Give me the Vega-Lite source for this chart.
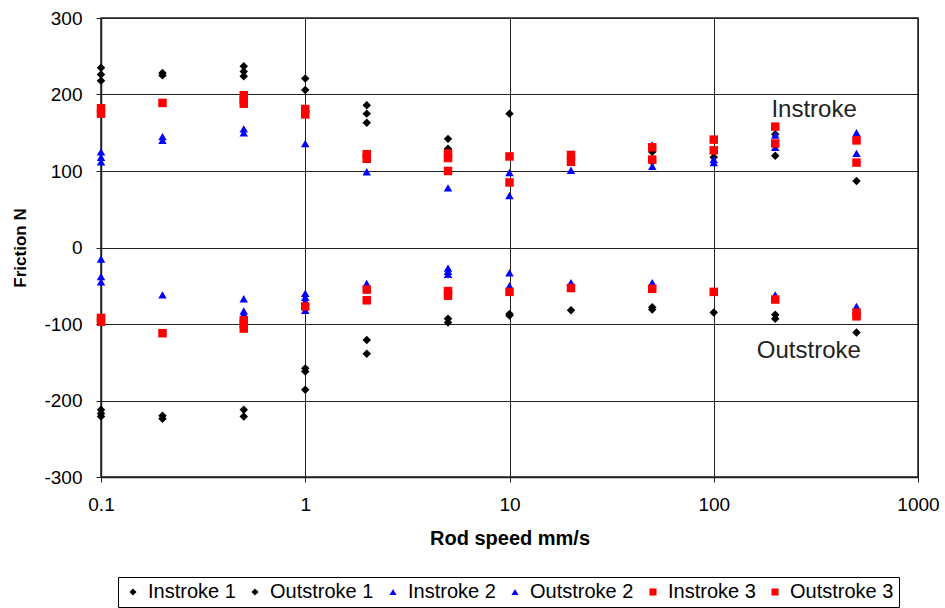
{
  "$schema": "https://vega.github.io/schema/vega-lite/v6.json",
  "width": 817,
  "height": 459,
  "autosize": "none",
  "padding": {"left": 101, "top": 18, "right": 27, "bottom": 131},
  "background": "white",
  "config": {
    "font": "Liberation Sans",
    "view": {"stroke": "#222", "strokeWidth": 1.5},
    "legend": {
      "orient": "none",
      "legendX": 17,
      "legendY": 559,
      "direction": "horizontal",
      "strokeColor": "#000",
      "padding": 5,
      "labelFont": "Liberation Sans",
      "labelFontSize": 20,
      "labelColor": "#000",
      "symbolSize": 50,
      "labelOffset": 5,
      "columnPadding": 9,
      "symbolStrokeWidth": 0
    }
  },
  "layer": [
    {
      "data": {
        "values": [
          {"speed": 0.1, "friction": 235, "series": "Instroke 1"},
          {"speed": 0.1, "friction": 226, "series": "Instroke 1"},
          {"speed": 0.1, "friction": 218, "series": "Instroke 1"},
          {"speed": 0.2, "friction": 228, "series": "Instroke 1"},
          {"speed": 0.2, "friction": 225, "series": "Instroke 1"},
          {"speed": 0.5, "friction": 237, "series": "Instroke 1"},
          {"speed": 0.5, "friction": 230, "series": "Instroke 1"},
          {"speed": 0.5, "friction": 224, "series": "Instroke 1"},
          {"speed": 1, "friction": 221, "series": "Instroke 1"},
          {"speed": 1, "friction": 206, "series": "Instroke 1"},
          {"speed": 2, "friction": 186, "series": "Instroke 1"},
          {"speed": 2, "friction": 175, "series": "Instroke 1"},
          {"speed": 2, "friction": 163, "series": "Instroke 1"},
          {"speed": 5, "friction": 142, "series": "Instroke 1"},
          {"speed": 5, "friction": 129, "series": "Instroke 1"},
          {"speed": 10, "friction": 175, "series": "Instroke 1"},
          {"speed": 20, "friction": 113, "series": "Instroke 1"},
          {"speed": 50, "friction": 125, "series": "Instroke 1"},
          {"speed": 50, "friction": 112, "series": "Instroke 1"},
          {"speed": 100, "friction": 118, "series": "Instroke 1"},
          {"speed": 200, "friction": 148, "series": "Instroke 1"},
          {"speed": 200, "friction": 120, "series": "Instroke 1"},
          {"speed": 500, "friction": 87, "series": "Instroke 1"},

          {"speed": 0.1, "friction": -212, "series": "Outstroke 1"},
          {"speed": 0.1, "friction": -217, "series": "Outstroke 1"},
          {"speed": 0.1, "friction": -221, "series": "Outstroke 1"},
          {"speed": 0.2, "friction": -220, "series": "Outstroke 1"},
          {"speed": 0.2, "friction": -224, "series": "Outstroke 1"},
          {"speed": 0.5, "friction": -212, "series": "Outstroke 1"},
          {"speed": 0.5, "friction": -221, "series": "Outstroke 1"},
          {"speed": 1, "friction": -158, "series": "Outstroke 1"},
          {"speed": 1, "friction": -162, "series": "Outstroke 1"},
          {"speed": 1, "friction": -186, "series": "Outstroke 1"},
          {"speed": 2, "friction": -121, "series": "Outstroke 1"},
          {"speed": 2, "friction": -139, "series": "Outstroke 1"},
          {"speed": 5, "friction": -93, "series": "Outstroke 1"},
          {"speed": 5, "friction": -98, "series": "Outstroke 1"},
          {"speed": 10, "friction": -87, "series": "Outstroke 1"},
          {"speed": 10, "friction": -89, "series": "Outstroke 1"},
          {"speed": 20, "friction": -82, "series": "Outstroke 1"},
          {"speed": 50, "friction": -78, "series": "Outstroke 1"},
          {"speed": 50, "friction": -81, "series": "Outstroke 1"},
          {"speed": 100, "friction": -85, "series": "Outstroke 1"},
          {"speed": 200, "friction": -88, "series": "Outstroke 1"},
          {"speed": 200, "friction": -93, "series": "Outstroke 1"},
          {"speed": 500, "friction": -111, "series": "Outstroke 1"},

          {"speed": 0.1, "friction": 125, "series": "Instroke 2"},
          {"speed": 0.1, "friction": 118, "series": "Instroke 2"},
          {"speed": 0.1, "friction": 112, "series": "Instroke 2"},
          {"speed": 0.2, "friction": 145, "series": "Instroke 2"},
          {"speed": 0.2, "friction": 140, "series": "Instroke 2"},
          {"speed": 0.5, "friction": 155, "series": "Instroke 2"},
          {"speed": 0.5, "friction": 150, "series": "Instroke 2"},
          {"speed": 1, "friction": 136, "series": "Instroke 2"},
          {"speed": 2, "friction": 99, "series": "Instroke 2"},
          {"speed": 5, "friction": 78, "series": "Instroke 2"},
          {"speed": 10, "friction": 98, "series": "Instroke 2"},
          {"speed": 10, "friction": 68, "series": "Instroke 2"},
          {"speed": 20, "friction": 101, "series": "Instroke 2"},
          {"speed": 50, "friction": 134, "series": "Instroke 2"},
          {"speed": 50, "friction": 106, "series": "Instroke 2"},
          {"speed": 100, "friction": 115, "series": "Instroke 2"},
          {"speed": 100, "friction": 111, "series": "Instroke 2"},
          {"speed": 200, "friction": 147, "series": "Instroke 2"},
          {"speed": 200, "friction": 131, "series": "Instroke 2"},
          {"speed": 500, "friction": 150, "series": "Instroke 2"},
          {"speed": 500, "friction": 123, "series": "Instroke 2"},

          {"speed": 0.1, "friction": -15, "series": "Outstroke 2"},
          {"speed": 0.1, "friction": -38, "series": "Outstroke 2"},
          {"speed": 0.1, "friction": -45, "series": "Outstroke 2"},
          {"speed": 0.2, "friction": -62, "series": "Outstroke 2"},
          {"speed": 0.5, "friction": -67, "series": "Outstroke 2"},
          {"speed": 0.5, "friction": -83, "series": "Outstroke 2"},
          {"speed": 0.5, "friction": -87, "series": "Outstroke 2"},
          {"speed": 1, "friction": -60, "series": "Outstroke 2"},
          {"speed": 1, "friction": -65, "series": "Outstroke 2"},
          {"speed": 1, "friction": -70, "series": "Outstroke 2"},
          {"speed": 1, "friction": -82, "series": "Outstroke 2"},
          {"speed": 2, "friction": -47, "series": "Outstroke 2"},
          {"speed": 5, "friction": -27, "series": "Outstroke 2"},
          {"speed": 5, "friction": -31, "series": "Outstroke 2"},
          {"speed": 5, "friction": -35, "series": "Outstroke 2"},
          {"speed": 10, "friction": -33, "series": "Outstroke 2"},
          {"speed": 10, "friction": -50, "series": "Outstroke 2"},
          {"speed": 20, "friction": -46, "series": "Outstroke 2"},
          {"speed": 50, "friction": -46, "series": "Outstroke 2"},
          {"speed": 100, "friction": -57, "series": "Outstroke 2"},
          {"speed": 200, "friction": -62, "series": "Outstroke 2"},
          {"speed": 500, "friction": -77, "series": "Outstroke 2"},

          {"speed": 0.1, "friction": 182, "series": "Instroke 3"},
          {"speed": 0.1, "friction": 175, "series": "Instroke 3"},
          {"speed": 0.2, "friction": 189, "series": "Instroke 3"},
          {"speed": 0.5, "friction": 199, "series": "Instroke 3"},
          {"speed": 0.5, "friction": 193, "series": "Instroke 3"},
          {"speed": 0.5, "friction": 188, "series": "Instroke 3"},
          {"speed": 1, "friction": 181, "series": "Instroke 3"},
          {"speed": 1, "friction": 174, "series": "Instroke 3"},
          {"speed": 2, "friction": 122, "series": "Instroke 3"},
          {"speed": 2, "friction": 116, "series": "Instroke 3"},
          {"speed": 5, "friction": 123, "series": "Instroke 3"},
          {"speed": 5, "friction": 117, "series": "Instroke 3"},
          {"speed": 5, "friction": 100, "series": "Instroke 3"},
          {"speed": 10, "friction": 119, "series": "Instroke 3"},
          {"speed": 10, "friction": 85, "series": "Instroke 3"},
          {"speed": 20, "friction": 121, "series": "Instroke 3"},
          {"speed": 20, "friction": 112, "series": "Instroke 3"},
          {"speed": 50, "friction": 131, "series": "Instroke 3"},
          {"speed": 50, "friction": 115, "series": "Instroke 3"},
          {"speed": 100, "friction": 141, "series": "Instroke 3"},
          {"speed": 100, "friction": 127, "series": "Instroke 3"},
          {"speed": 200, "friction": 158, "series": "Instroke 3"},
          {"speed": 200, "friction": 136, "series": "Instroke 3"},
          {"speed": 500, "friction": 140, "series": "Instroke 3"},
          {"speed": 500, "friction": 111, "series": "Instroke 3"},

          {"speed": 0.1, "friction": -92, "series": "Outstroke 3"},
          {"speed": 0.1, "friction": -97, "series": "Outstroke 3"},
          {"speed": 0.2, "friction": -112, "series": "Outstroke 3"},
          {"speed": 0.5, "friction": -95, "series": "Outstroke 3"},
          {"speed": 0.5, "friction": -100, "series": "Outstroke 3"},
          {"speed": 0.5, "friction": -106, "series": "Outstroke 3"},
          {"speed": 1, "friction": -77, "series": "Outstroke 3"},
          {"speed": 2, "friction": -55, "series": "Outstroke 3"},
          {"speed": 2, "friction": -69, "series": "Outstroke 3"},
          {"speed": 5, "friction": -57, "series": "Outstroke 3"},
          {"speed": 5, "friction": -63, "series": "Outstroke 3"},
          {"speed": 10, "friction": -58, "series": "Outstroke 3"},
          {"speed": 20, "friction": -53, "series": "Outstroke 3"},
          {"speed": 50, "friction": -54, "series": "Outstroke 3"},
          {"speed": 100, "friction": -58, "series": "Outstroke 3"},
          {"speed": 200, "friction": -68, "series": "Outstroke 3"},
          {"speed": 500, "friction": -85, "series": "Outstroke 3"},
          {"speed": 500, "friction": -90, "series": "Outstroke 3"}
        ]
      },
      "mark": {"type": "point", "filled": true, "opacity": 1, "size": 72, "strokeWidth": 0},
      "encoding": {
        "x": {
          "field": "speed",
          "type": "quantitative",
          "scale": {"type": "log", "domain": [0.1, 1000], "nice": false},
          "axis": {
            "values": [0.1, 1, 10, 100, 1000],
            "labelExpr": "datum.value + ''",
            "grid": true,
            "gridColor": "#222",
            "gridOpacity": 1,
            "gridWidth": 1,
            "domainColor": "#222",
            "domainWidth": 1.5,
            "tickColor": "#222",
            "tickSize": 5,
            "labelFont": "Liberation Sans",
            "labelFontSize": 19,
            "labelColor": "#000",
            "labelPadding": 13,
            "labelFlush": false,
            "labelOverlap": false,
            "title": "Rod speed mm/s",
            "titleFont": "Liberation Sans",
            "titleFontSize": 20,
            "titleFontWeight": "bold",
            "titleColor": "#000",
            "titlePadding": 14
          }
        },
        "y": {
          "field": "friction",
          "type": "quantitative",
          "scale": {"domain": [-300, 300], "nice": false},
          "axis": {
            "values": [-300, -200, -100, 0, 100, 200, 300],
            "labelExpr": "datum.value + ''",
            "grid": true,
            "gridColor": "#222",
            "gridOpacity": 1,
            "gridWidth": 1,
            "domainColor": "#222",
            "domainWidth": 1.5,
            "tickColor": "#222",
            "tickSize": 5,
            "labelFont": "Liberation Sans",
            "labelFontSize": 19,
            "labelColor": "#000",
            "labelPadding": 14,
            "labelFlush": false,
            "labelOverlap": false,
            "title": "Friction N",
            "titleFont": "Liberation Sans",
            "titleFontSize": 17,
            "titleFontWeight": "bold",
            "titleColor": "#000",
            "titlePadding": 14
          }
        },
        "color": {
          "field": "series",
          "type": "nominal",
          "scale": {
            "domain": ["Instroke 1", "Outstroke 1", "Instroke 2", "Outstroke 2", "Instroke 3", "Outstroke 3"],
            "range": ["#000000", "#000000", "#0000ff", "#0000ff", "#ff0000", "#ff0000"]
          },
          "legend": {"title": null}
        },
        "shape": {
          "field": "series",
          "type": "nominal",
          "scale": {
            "domain": ["Instroke 1", "Outstroke 1", "Instroke 2", "Outstroke 2", "Instroke 3", "Outstroke 3"],
            "range": ["diamond", "diamond", "triangle-up", "triangle-up", "square", "square"]
          },
          "legend": {"title": null}
        }
      }
    },
    {
      "data": {
        "values": [
          {"speed": 310, "friction": 180, "label": "Instroke"},
          {"speed": 292, "friction": -135, "label": "Outstroke"}
        ]
      },
      "mark": {"type": "text", "font": "Liberation Sans", "fontSize": 24, "color": "#222", "align": "center", "baseline": "middle"},
      "encoding": {
        "x": {"field": "speed", "type": "quantitative"},
        "y": {"field": "friction", "type": "quantitative"},
        "text": {"field": "label", "type": "nominal"}
      }
    }
  ]
}
